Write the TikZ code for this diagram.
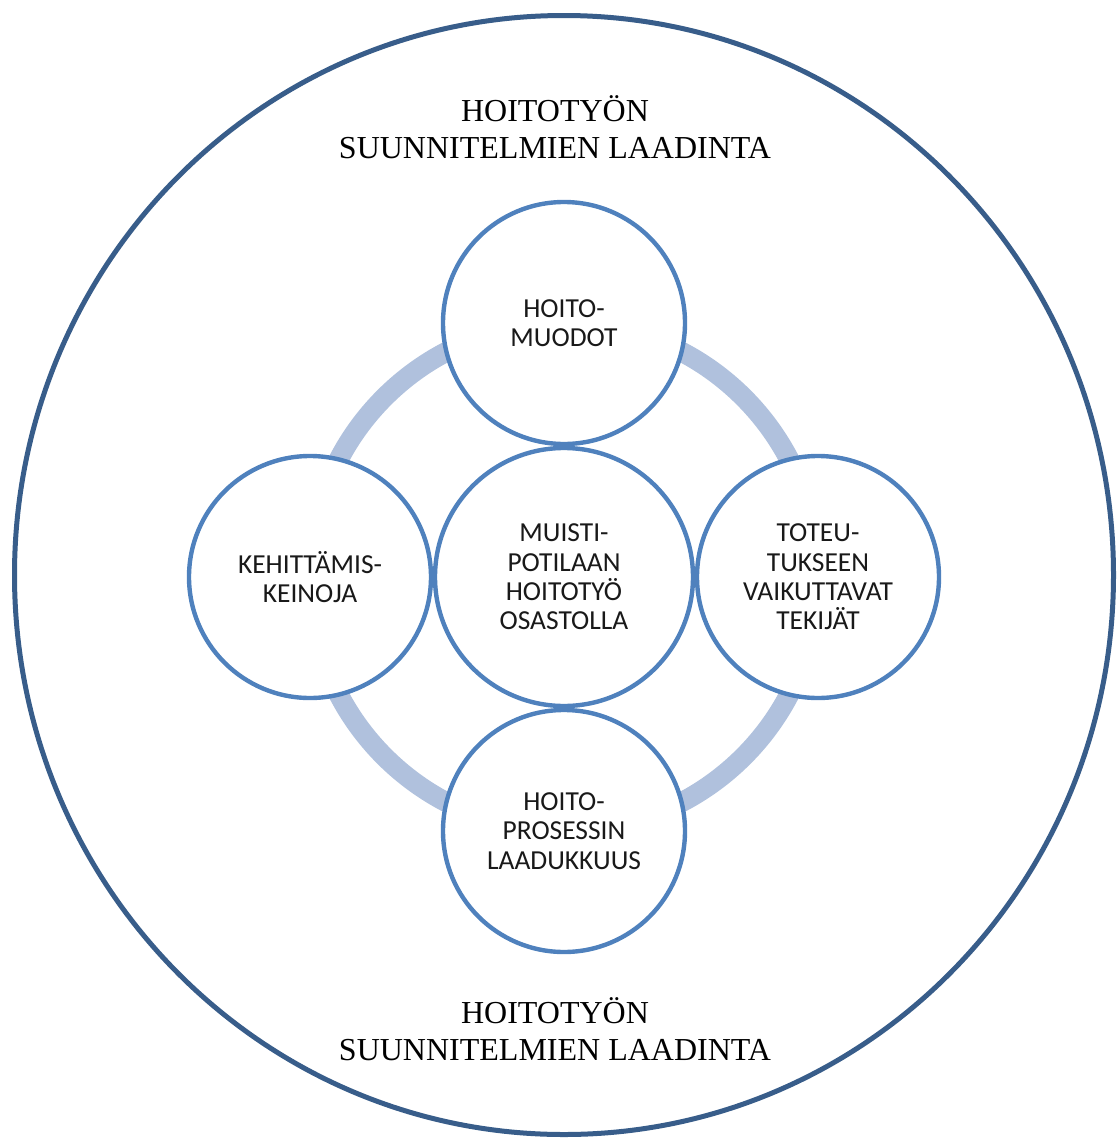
\documentclass[tikz,border=0pt]{standalone}
\usepackage{fontspec}
\setmainfont{Liberation Serif}
\newfontfamily\calfont{Carlito}
\definecolor{outerblue}{RGB}{56,93,138}
\definecolor{circblue}{RGB}{79,129,189}
\definecolor{ringblue}{RGB}{176,193,221}
\tikzset{
  smallc/.style={circle,draw=circblue,line width=3.3pt,fill=white,inner sep=0pt,
    minimum size=181.5pt,align=center,font=\calfont\fontsize{20.6}{22}\selectfont,text=black!90},
  bigc/.style={smallc,minimum size=193.5pt},
  outertext/.style={align=center,font=\fontsize{24}{28}\selectfont,inner sep=0pt}
}
\begin{document}
\begin{tikzpicture}[x=0.75pt,y=-0.75pt]
\useasboundingbox (0,0) rectangle (1118,1139);
\draw[outerblue,line width=3.75pt] (564,575) ellipse [x radius=549.5, y radius=559.5];
\coordinate (ringc) at (564,577);
\draw[ringblue,line width=15pt] (ringc) circle [radius=254];
\node[smallc] (top) at (564,323) {HOITO-\\MUODOT};
\node[smallc] (left) at (310,577) {KEHITTÄMIS-\\KEINOJA};
\node[smallc] (right) at (818,577) {TOTEU-\\TUKSEEN\\VAIKUTTAVAT\\TEKIJÄT};
\node[smallc] (bottom) at (564,831) {HOITO-\\PROSESSIN\\LAADUKKUUS};
\node[bigc] (center) at (564,577) {MUISTI-\\POTILAAN\\HOITOTYÖ\\OSASTOLLA};
\node[outertext] (ttop) at (555,127) {HOITOTYÖN\\SUUNNITELMIEN LAADINTA};
\node[outertext] (tbot) at (555,1029) {HOITOTYÖN\\SUUNNITELMIEN LAADINTA};
\end{tikzpicture}
\end{document}
